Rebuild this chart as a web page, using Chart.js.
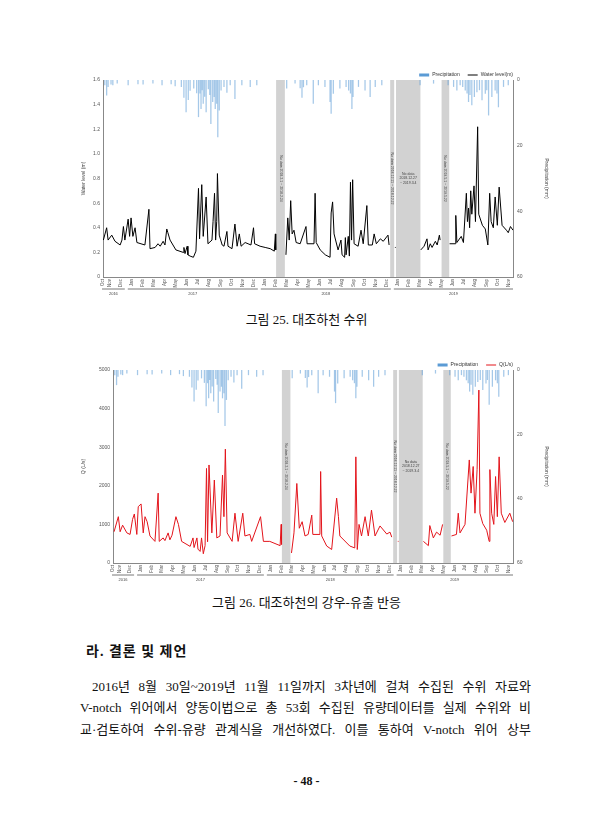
<!DOCTYPE html>
<html>
<head>
<meta charset="utf-8">
<script src="https://cdn.jsdelivr.net/npm/chart.js@4.4.1/dist/chart.umd.min.js"></script>
<style>
  body { margin: 0; width: 613px; height: 840px; background: #fff; position: relative; overflow: hidden;
         font-family: "Liberation Serif", "Noto Sans CJK KR", serif; color: #111; }
  canvas { position: absolute; left: 80px; }
  #c1 { top: 66px; }
  #c2 { top: 356px; }
  .cap { position: absolute; left: 0; width: 613px; text-align: center; font-size: 13px; line-height: 16px; }
  .head { position: absolute; left: 86px; top: 643px; font-size: 14px; line-height: 18px; font-weight: bold; letter-spacing: 1px; }
  .line { position: absolute; left: 80px; width: 451px; font-size: 13px; line-height: 16px; text-align: justify; text-align-last: justify; }
  .pno { position: absolute; left: 0; width: 613px; top: 774px; text-align: center; font-size: 12px; font-weight: bold; }
</style>
</head>
<body>
<canvas id="c1" width="470" height="235"></canvas>
<div class="cap" style="top:312px">그림 25. 대조하천 수위</div>
<canvas id="c2" width="470" height="231"></canvas>
<div class="cap" style="top:595px">그림 26. 대조하천의 강우-유출 반응</div>
<div class="head">라. 결론 및 제언</div>
<div class="line" style="top:679px;left:92px;width:439px">2016년 8월 30일~2019년 11월 11일까지 3차년에 걸쳐 수집된 수위 자료와</div>
<div class="line" style="top:700px">V-notch 위어에서 양동이법으로 총 53회 수집된 유량데이터를 실제 수위와 비</div>
<div class="line" style="top:722px">교·검토하여 수위-유량 관계식을 개선하였다. 이를 통하여 V-notch 위어 상부</div>
<div class="pno">- 48 -</div>
<script>
// x values are days since 2016-10-01
const monthNames = ['Jan', 'Feb', 'Mar', 'Apr', 'May', 'Jun', 'Jul', 'Aug', 'Sep', 'Oct', 'Nov', 'Dec'];
const yearLabels = ['2016', '2017', '2018', '2019'];
const xFrom = 13, xTo = 1138;

// daily precipitation (mm), [day, mm]
const rainPoints = [[18,1.5],[23,4.6],[27,2],[35,1.3],[40,1.5],[52,1],[82,1.5],[109,1.2],[123,1.3],[150,1],
  [175,1.5],[200,1.2],[211,1.8],[228,2],[235,5.3],[241,9.7],[247,6],[252,3.2],[262,2.5],[270,3.9],
  [275,11.2],[279,4],[282,8.7],[285,3],[288,7.1],[292,5],[296,9.7],[302,2.7],[306,4.5],[309,13.3],
  [314,6.6],[318,5.1],[321,8.7],[325,7.1],[328,17.3],[332,9.2],[337,3.1],[345,2],[353,3.8],[362,1.5],
  [375,5.7],[394,1.5],[417,2],[435,1.5],[517,2.5],[540,1],[554,2.4],[559,5.3],[563,2.1],[572,1.5],
  [590,7.1],[604,1.5],[622,2],[636,6.6],[639,10.2],[645,4.1],[663,2.5],[680,2],[687,3.1],[692,4],
  [696,8.7],[699,5.1],[714,2],[732,3.1],[746,5.1],[760,2],[778,1.5],[883,1.5],[920,1],[960,1.5],
  [975,2],[984,3.1],[993,1.5],[1000,2],[1007,3.1],[1012,4],[1016,6.6],[1020,4.5],[1025,7.6],[1032,5.1],
  [1039,3.6],[1046,3],[1053,6.1],[1062,4.1],[1066,3],[1071,10.7],[1080,5.1],[1089,3.1],[1094,4],[1098,8.2],
  [1112,2],[1125,1.5]];

// water level (m), [day, m]; null = no data
const levelPoints = [[14,0.30],[23,0.40],[27,0.30],[37,0.34],[46,0.29],[60,0.26],[65,0.30],[69,0.41],[73,0.30],
  [82,0.47],[86,0.33],[90,0.48],[95,0.33],[101,0.40],[106,0.28],[128,0.26],[139,0.55],[142,0.23],[156,0.24],
  [164,0.27],[170,0.25],[178,0.29],[183,0.26],[188,0.39],[191,0.36],[197,0.30],[213,0.22],[233,0.20],[235,0.24],
  [238,0.19],[244,0.25],[246,0.18],[252,0.17],[261,0.16],[268,0.21],[275,0.72],[278,0.31],[284,0.75],[288,0.33],
  [296,0.65],[301,0.27],[312,0.30],[315,0.45],[319,0.68],[322,0.30],[325,0.45],[327,0.84],[332,0.34],[340,0.26],
  [345,0.25],[353,0.37],[356,0.25],[367,0.23],[375,0.43],[381,0.25],[387,0.35],[392,0.25],[403,0.28],[411,0.27],
  [419,0.26],[426,0.40],[429,0.27],[444,0.25],[458,0.24],[472,0.23],[483,0.21],[486,0.35],[487,0.22],[500,null],
  [515,0.18],[520,0.48],[524,0.30],[528,0.62],[532,0.35],[537,0.38],[543,0.28],[554,0.27],[570,0.41],[573,0.27],
  [592,0.27],[595,0.68],[598,0.28],[609,0.22],[623,0.18],[636,0.16],[639,0.52],[643,0.61],[647,0.35],[658,0.22],
  [666,0.30],[669,0.18],[676,0.16],[678,0.32],[680,0.18],[686,0.33],[689,0.17],[692,0.77],[695,0.30],[698,0.79],
  [702,0.27],[713,0.25],[721,0.38],[727,0.27],[737,0.58],[741,0.26],[752,0.26],[757,0.35],[763,0.27],[774,0.31],
  [782,0.29],[795,0.34],[798,0.26],[806,null],[814,0.24],[816,0.24],[850,null],[885,0.22],[894,0.25],[902,0.31],
  [905,0.22],[911,0.27],[916,0.24],[925,0.29],[930,0.26],[936,0.34],[938,0.30],[950,null],[964,0.27],[980,0.27],
  [981,0.50],[984,0.28],[996,0.33],[1002,0.28],[1010,0.68],[1013,0.45],[1016,0.56],[1019,0.40],[1022,0.70],
  [1025,0.51],[1031,0.74],[1035,0.45],[1041,1.22],[1044,0.51],[1054,0.42],[1062,0.39],[1069,0.26],[1074,0.68],
  [1078,0.45],[1084,0.40],[1089,0.65],[1095,0.42],[1100,0.73],[1108,0.42],[1120,0.38],[1125,0.36],[1131,0.41],
  [1138,0.38]];

// discharge Q (L/s), [day, L/s]; null = no data
const flowPoints = [[16,810],[28,1200],[33,810],[40,980],[52,780],[61,740],[68,1130],[73,1270],[80,740],[84,1460],
  [92,1530],[98,780],[103,1200],[109,1070],[117,700],[131,560],[140,1810],[143,560],[154,650],[159,580],[168,780],
  [173,600],[179,720],[190,1200],[197,1000],[206,560],[230,430],[238,650],[241,400],[249,650],[252,360],[258,300],
  [262,650],[267,240],[272,450],[276,2450],[279,550],[283,2540],[291,780],[298,2150],[305,650],[314,700],[321,2280],
  [325,1200],[329,2950],[334,780],[348,560],[356,1290],[365,560],[378,1290],[384,700],[398,740],[403,560],[428,1200],
  [436,560],[454,560],[483,450],[486,1000],[487,480],[500,null],[515,260],[522,780],[530,2060],[537,900],[545,1070],
  [553,700],[562,740],[572,1240],[575,740],[595,740],[597,2370],[600,700],[614,440],[628,350],[642,1680],[647,1200],
  [651,700],[679,440],[693,390],[696,2750],[700,350],[705,1000],[712,700],[722,1200],[731,700],[740,1370],[750,700],
  [764,960],[783,750],[792,800],[797,670],[806,null],[814,560],[816,560],[850,null],[886,560],[900,450],[904,970],
  [914,650],[923,800],[933,720],[940,1000],[950,null],[965,700],[979,740],[984,1290],[989,780],[1003,1000],
  [1015,2670],[1020,1810],[1026,2500],[1031,1290],[1037,2420],[1042,4480],[1045,1290],[1053,1020],[1064,850],
  [1071,560],[1073,2420],[1078,1290],[1084,1000],[1089,2240],[1094,1200],[1099,2750],[1105,1290],[1115,1050],
  [1129,1290],[1137,1070]];

// missing-data periods
const gapStart = [488, 801, 817, 942];
const gapEnd = [512, 812, 884, 963];
const gapNote = ['No data 2018.2.1 ~ 2018.2.24', 'No data 2018.12.11 ~ 2018.12.22', 'No data\n2018.12.27\n~ 2019.3.4', 'No data 2019.5.1 ~ 2019.5.22'];

const DAY0 = Date.UTC(2016, 9, 1);
const dayOf = (y, m) => (Date.UTC(y, m, 1) - DAY0) / 864e5;
const monthOf = v => new Date(DAY0 + v * 864e5).getUTCMonth();
const yearStart = yearLabels.map(y => dayOf(+y, 0));

function monthTicks() {
  const t = [{ value: xFrom }];
  for (let y = 2016; y <= 2019; y++)
    for (let m = 0; m < 12; m++) {
      const d = dayOf(y, m);
      if (d > xFrom + 5 && d <= xTo) t.push({ value: d });
    }
  return t;
}

const tickFont = { size: 5, family: 'Liberation Sans' };

const decor = {
  id: 'decor',
  beforeDatasetsDraw(chart) {
    const { ctx, chartArea: a, scales: { x } } = chart;
    ctx.save();
    gapStart.forEach((s, i) => {
      const x0 = x.getPixelForValue(s), x1 = x.getPixelForValue(gapEnd[i]);
      ctx.fillStyle = '#d2d2d2';
      ctx.fillRect(x0, a.top, x1 - x0, a.bottom - a.top);
      ctx.fillStyle = '#444';
      ctx.font = '3.5px Liberation Sans';
      ctx.textAlign = 'center';
      ctx.textBaseline = 'middle';
      const cx = (x0 + x1) / 2, cy = (a.top + a.bottom) / 2;
      const lines = gapNote[i].split('\n');
      if (lines.length > 1) {
        lines.forEach((l, k) => ctx.fillText(l, cx, cy + (k - 1) * 4.5));
      } else {
        ctx.save();
        ctx.translate(cx, cy);
        ctx.rotate(Math.PI / 2);
        ctx.fillText(lines[0], 0, 0);
        ctx.restore();
      }
    });
    ctx.restore();
  },
  afterDraw(chart) {
    const { ctx, chartArea: a, scales: { x } } = chart;
    ctx.save();
    // year groups under the month labels
    const yb = a.bottom + 12;
    ctx.strokeStyle = '#555';
    ctx.lineWidth = 0.8;
    ctx.fillStyle = '#444';
    ctx.font = '4px Liberation Sans';
    ctx.textAlign = 'center';
    ctx.textBaseline = 'middle';
    yearLabels.forEach((yr, i) => {
      let x0 = i === 0 ? a.left - 1 : x.getPixelForValue(yearStart[i]) - 4;
      let x1 = i === yearLabels.length - 1 ? a.right : x.getPixelForValue(yearStart[i + 1]) - 7;
      ctx.beginPath();
      ctx.moveTo(x0, yb);
      ctx.lineTo(x1, yb);
      ctx.stroke();
      ctx.fillText(yr, (x0 + x1) / 2, yb + 5);
    });
    // legend, right aligned above the plot
    ctx.font = '5px Liberation Sans';
    ctx.textAlign = 'left';
    let px = a.right;
    const ly = a.top - 5;
    chart.data.datasets.slice().reverse().forEach(ds => {
      const w = ctx.measureText(ds.label).width;
      px -= w;
      ctx.fillStyle = '#333';
      ctx.fillText(ds.label, px, ly);
      px -= 13;
      if (ds.type === 'bar') {
        ctx.fillStyle = '#5b9bd5';
        ctx.fillRect(px, ly - 1.5, 10, 3);
      } else {
        ctx.strokeStyle = ds.borderColor;
        ctx.lineWidth = 1;
        ctx.beginPath();
        ctx.moveTo(px, ly);
        ctx.lineTo(px + 10, ly);
        ctx.stroke();
      }
      px -= 8;
    });
    ctx.restore();
  }
};

function buildChart(id, points, label, color, yMax, yStep, yTitle, leftWidth) {
  return new Chart(document.getElementById(id), {
    type: 'line',
    data: {
      datasets: [
        {
          type: 'bar',
          label: 'Precipitation',
          data: rainPoints.map(p => ({ x: p[0], y: p[1] })),
          yAxisID: 'y2',
          backgroundColor: 'rgba(91, 155, 213, 0.55)',
          barThickness: 0.6,
          order: 2
        },
        {
          type: 'line',
          label: label,
          data: points.map(p => ({ x: p[0], y: p[1] })),
          yAxisID: 'y',
          borderColor: color,
          borderWidth: 1,
          pointRadius: 0,
          tension: 0,
          spanGaps: false,
          order: 1
        }
      ]
    },
    options: {
      responsive: false,
      animation: false,
      layout: { padding: { top: 14, left: 0, right: 0, bottom: 0 } },
      plugins: { legend: { display: false }, tooltip: { enabled: false } },
      scales: {
        x: {
          type: 'linear',
          min: xFrom,
          max: xTo,
          offset: false,
          grid: { display: false, drawTicks: false },
          border: { color: '#888' },
          afterBuildTicks: s => { s.ticks = monthTicks(); },
          afterFit: s => { s.height = 24; },
          ticks: {
            autoSkip: false, minRotation: 90, maxRotation: 90, padding: 2,
            font: { size: 4.5, family: 'Liberation Sans' }, color: '#555',
            callback: v => monthNames[monthOf(v)]
          }
        },
        y: {
          position: 'left',
          min: 0,
          max: yMax,
          grid: { display: false, drawTicks: false },
          border: { color: '#888' },
          afterFit: s => { s.width = leftWidth; },
          ticks: { stepSize: yStep, font: tickFont, color: '#555', padding: 3, format: { useGrouping: false } },
          title: { display: true, text: yTitle, font: tickFont, color: '#444', padding: 1 }
        },
        y2: {
          position: 'right',
          reverse: true,
          min: 0,
          max: 60,
          grid: { display: false, drawTicks: false },
          border: { color: '#888' },
          afterFit: s => { s.width = 37; },
          ticks: { stepSize: 20, font: tickFont, color: '#555', padding: 4 },
          title: { display: true, text: 'Precipitation (mm)', font: tickFont, color: '#444', padding: 1 }
        }
      }
    },
    plugins: [decor]
  });
}

buildChart('c1', levelPoints, 'Water level(m)', '#000', 1.6, 0.2, 'Water level (m)', 23);
buildChart('c2', flowPoints, 'Q(L/s)', '#e3141b', 5000, 1000, 'Q (L/s)', 33);
</script>
</body>
</html>
